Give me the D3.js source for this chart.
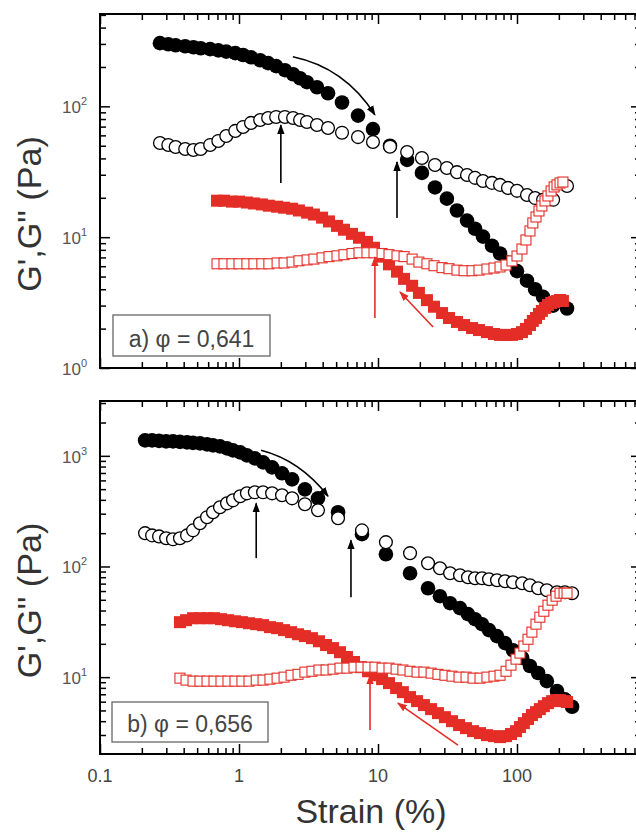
<!DOCTYPE html>
<html>
<head>
<meta charset="utf-8">
<script src="https://cdn.jsdelivr.net/npm/d3@7/dist/d3.min.js"></script>
<style>
body { margin: 0; background: #fff; }
svg { display: block; }
text { font-family: "Liberation Sans", Arial, sans-serif; }
</style>
</head>
<body>
<svg id="chart" width="636" height="833"></svg>
<script>
/* panel a) phi = 0,641 : black = first sweep, red = second sweep */
var strainA = [0.27, 0.31, 0.35, 0.41, 0.47, 0.53, 0.62, 0.71, 0.81, 0.94, 1.07, 1.22, 1.42, 1.62, 1.85, 2.14, 2.45, 2.75, 3.08, 3.64, 4.37, 5.51, 7.18, 9.2, 12.2, 16.2, 20.7, 25.7, 31.3, 37, 43.7, 49.9, 56.9, 66.1, 75.5, 86.1, 100, 118, 135, 154, 182, 229];
var gpA = [304, 298, 293, 288, 283, 278, 274, 268, 262, 255, 247, 237, 225, 214, 203, 189, 176, 164, 153, 140, 126, 107, 85, 67, 50, 39, 31, 24, 19.7, 16, 13.4, 11.6, 10.1, 8.6, 7.5, 6.4, 5.5, 4.65, 4.0, 3.5, 3.0, 2.85];
var gppA = [52.5, 50.7, 48.9, 47.2, 46.4, 47.2, 50.7, 54.4, 59.4, 64.9, 69.6, 74.7, 78.7, 81.5, 83, 83, 81.5, 78.7, 76, 72, 68.3, 62.9, 58.2, 53.4, 49.2, 44.8, 40.3, 35.6, 33.8, 31.4, 29.9, 28.4, 26.9, 26.0, 25.1, 23.8, 22.6, 21.0, 19.9, 19.3, 19.3, 24.6];

var strainRedA = [0.695, 0.78, 0.89, 1.0, 1.14, 1.28, 1.46, 1.64, 1.88, 2.11, 2.41, 2.70, 3.09, 3.46, 3.96, 4.44, 5.07, 5.69, 6.50, 7.30, 8.33, 9.36, 10.7, 12.0, 13.7, 15.4, 17.6, 19.7, 22.5, 25.3, 28.9, 32.4, 37.0, 41.6, 47.5, 53.3, 60.8, 68.3, 75.5, 83.4, 92.0, 100, 108.6, 116, 124, 130, 137, 144, 151, 159, 167, 176, 185, 194, 204, 214];
var gpRedA = [19.0, 19.0, 18.7, 18.7, 18.4, 18.1, 17.8, 17.4, 17.1, 16.8, 16.5, 16.0, 15.4, 14.9, 14.1, 13.2, 12.2, 11.4, 10.6, 9.9, 9.2, 8.3, 7.1, 6.2, 5.45, 4.8, 4.25, 3.75, 3.3, 2.94, 2.63, 2.41, 2.25, 2.13, 2.02, 1.95, 1.88, 1.82, 1.79, 1.79, 1.79, 1.82, 1.88, 1.99, 2.13, 2.29, 2.41, 2.59, 2.73, 2.88, 3.03, 3.14, 3.20, 3.25, 3.31, 3.25];
var gppRedA = [6.26, 6.26, 6.26, 6.26, 6.26, 6.26, 6.26, 6.26, 6.35, 6.35, 6.45, 6.6, 6.7, 6.8, 6.95, 7.1, 7.2, 7.35, 7.5, 7.6, 7.6, 7.6, 7.5, 7.35, 7.2, 7.1, 6.8, 6.45, 6.26, 6.05, 5.85, 5.74, 5.6, 5.54, 5.54, 5.6, 5.71, 5.81, 5.92, 6.13, 6.58, 7.18, 8.12, 9.52, 11.15, 12.84, 14.27, 15.86, 17.32, 18.92, 20.65, 22.55, 24.2, 25.1, 25.97, 26.4];

/* panel b) phi = 0,656 */
var strainB = [0.211, 0.237, 0.266, 0.299, 0.335, 0.376, 0.423, 0.467, 0.524, 0.589, 0.650, 0.730, 0.820, 0.905, 1.02, 1.14, 1.30, 1.49, 1.73, 2.04, 2.41, 2.98, 3.70, 5.16, 7.67, 11.4, 17.0, 22.9, 27.9, 33.0, 38.9, 44.4, 49.9, 56.0, 62.9, 71.8, 82.0, 93.6, 109, 124, 142, 164, 194, 221, 249];
var gpB = [1380, 1380, 1366, 1352, 1352, 1338, 1324, 1310, 1297, 1270, 1244, 1218, 1169, 1121, 1075, 1010, 949, 873, 787, 695, 613, 498, 413, 309, 196, 129, 86.9, 63.6, 53.9, 46.6, 42, 37.1, 33.4, 30.1, 26.6, 23.5, 20.3, 17.5, 14.9, 12.6, 10.9, 9.2, 7.5, 6.3, 5.4];
var gppB = [200, 191, 187, 180, 176, 180, 191, 212, 246, 279, 309, 343, 372, 396, 431, 458, 468, 468, 458, 440, 413, 365, 322, 273, 212, 166, 132, 107, 96.4, 86.9, 83.3, 80, 78.3, 78.3, 76.7, 75.1, 73.6, 72.1, 70.6, 67.7, 63.6, 61.0, 58.5, 58.5, 57.3];

var strainRedB = [0.376, 0.416, 0.467, 0.524, 0.589, 0.661, 0.742, 0.833, 0.936, 1.05, 1.18, 1.33, 1.49, 1.67, 1.88, 2.11, 2.37, 2.66, 2.98, 3.35, 3.76, 4.23, 4.75, 5.33, 5.98, 6.72, 7.55, 8.48, 9.51, 10.7, 12.0, 13.5, 15.1, 17.0, 19.1, 21.4, 24.1, 27.0, 30.3, 34.1, 38.3, 43.0, 48.3, 54.2, 60.8, 68.3, 75.5, 83.4, 90.5, 98.4, 105, 112, 120, 128, 137, 146, 156, 167, 179, 191, 204, 218, 229];
var gpRedB = [31.4, 32.7, 34.1, 34.1, 34.1, 34.1, 33.4, 32.7, 32.0, 31.4, 30.7, 30.1, 29.5, 28.3, 27.7, 26.6, 25.5, 24.4, 23.5, 22.5, 21.1, 19.5, 18.3, 16.8, 15.2, 13.7, 12.3, 11.3, 10.4, 9.6, 8.83, 7.96, 7.32, 6.60, 6.07, 5.59, 5.14, 4.73, 4.35, 4.00, 3.69, 3.46, 3.25, 3.12, 2.99, 2.93, 2.87, 2.93, 3.06, 3.25, 3.54, 3.84, 4.18, 4.54, 4.83, 5.14, 5.47, 5.82, 6.07, 6.20, 6.20, 6.07, 5.95];
var gppRedB = [9.79, 9.40, 9.20, 9.20, 9.20, 9.20, 9.20, 9.20, 9.20, 9.20, 9.20, 9.40, 9.40, 9.59, 9.79, 10.0, 10.4, 10.6, 11.1, 11.3, 11.6, 11.6, 11.8, 12.06, 12.06, 12.3, 12.3, 12.3, 12.3, 12.06, 12.06, 11.8, 11.6, 11.3, 11.1, 11.1, 10.87, 10.6, 10.4, 10.2, 10.0, 10.0, 9.79, 9.79, 10.0, 10.2, 10.4, 11.3, 12.83, 14.54, 16.5, 19.1, 22.0, 25.5, 30.1, 34.8, 39.4, 44.7, 49.6, 53.9, 57.4, 57.4, 57.4];

/* x tick labels and y decade exponents */
var xLabels = [0.1, 1, 10, 100];
var expsA = [0, 1, 2];
var expsB = [1, 2, 3];

/* annotation arrows, in data units [strain, modulus] */
var arrowsA = [
  {c: "k", p: [[2.0, 26], [2.0, 72]]},
  {c: "k", p: [[13.7, 14.0], [13.7, 37.6]]},
  {c: "k", p: [[2.44, 239], [5.8, 197], [9.5, 86]]},
  {c: "r", p: [[9.5, 2.41], [9.5, 7.06]]},
  {c: "r", p: [[24.9, 2.06], [14.4, 3.81]]}
];
var arrowsB = [
  {c: "k", p: [[1.33, 119], [1.33, 372]]},
  {c: "k", p: [[6.39, 52.8], [6.39, 173]]},
  {c: "k", p: [[1.44, 1121], [2.75, 910], [4.37, 431]]},
  {c: "r", p: [[8.76, 3.32], [8.76, 10.4]]},
  {c: "r", p: [[37.6, 2.43], [13.9, 5.82]]}
];

var red = "#e42d26";
var svg = d3.select("#chart");

var x = d3.scaleLog().domain([0.1, 780]).range([100, 641]);

var defs = svg.append("defs");
[["headk", "#000"], ["headr", red]].forEach(function(m) {
  defs.append("marker")
    .attr("id", m[0])
    .attr("viewBox", "0 0 10 10")
    .attr("refX", 9).attr("refY", 5)
    .attr("markerWidth", 10).attr("markerHeight", 10)
    .attr("markerUnits", "userSpaceOnUse")
    .attr("orient", "auto")
    .append("path").attr("d", "M0,1.3L10,5L0,8.7Z").attr("fill", m[1]);
});

var panels = [
  {top: 14, bottom: 368, domain: [1, 508], exps: expsA,
   k: [strainA, gpA, gppA], r: [strainRedA, gpRedA, gppRedA], arrows: arrowsA,
   note: "a) \u03c6 = 0,641", box: [113, 315, 157, 41], noteY: 347},
  {top: 401, bottom: 754, domain: [2.02, 3130], exps: expsB,
   k: [strainB, gpB, gppB], r: [strainRedB, gpRedB, gppRedB], arrows: arrowsB,
   note: "b) \u03c6 = 0,656", box: [112, 702, 156, 40], noteY: 732}
];

panels.forEach(function(p, pi) {
  var y = d3.scaleLog().domain(p.domain).range([p.bottom, p.top]);
  var g = svg.append("g");

  // ticks, all pointing inward
  var xMajor = [0.1, 1, 10, 100];
  var xMinor = x.ticks().filter(function(t) { return xMajor.indexOf(t) < 0; });
  var yMajor = p.exps.map(function(e) { return Math.pow(10, e); });
  var yMinor = y.ticks().filter(function(t) {
    return Math.abs(Math.log10(t) - Math.round(Math.log10(t))) > 1e-6;
  });

  function axisSet(axis, vals, len, tr) {
    var a = g.append("g").attr("transform", tr)
      .call(axis(vals === "x" ? x : y).tickValues(len[0]).tickSize(-len[1]).tickFormat(""));
    a.select(".domain").remove();
    a.selectAll("line").attr("stroke", "#000").attr("stroke-width", 1.5);
  }
  [[xMajor, 10], [xMinor, 6]].forEach(function(s) {
    axisSet(d3.axisBottom, "x", s, "translate(0," + p.bottom + ")");
    axisSet(d3.axisTop, "x", s, "translate(0," + p.top + ")");
  });
  [[yMajor, 10], [yMinor, 6]].forEach(function(s) {
    axisSet(d3.axisLeft, "y", s, "translate(100,0)");
    axisSet(d3.axisRight, "y", s, "translate(641,0)");
  });

  g.append("rect")
    .attr("x", 100).attr("y", p.top)
    .attr("width", 541).attr("height", p.bottom - p.top)
    .attr("fill", "none").attr("stroke", "#000").attr("stroke-width", 2);

  // y tick labels 10^n
  var yl = g.selectAll(".ylab").data(p.exps).enter().append("text")
    .attr("class", "ylab")
    .attr("x", 87).attr("y", function(e) { return y(Math.pow(10, e)) + 7; })
    .attr("text-anchor", "end").attr("fill", "#555").attr("font-size", 17);
  yl.append("tspan").text("10");
  yl.append("tspan").attr("dy", -8).attr("font-size", 11).text(function(e) { return e; });

  // y axis title
  g.append("text")
    .attr("transform", "translate(41," + ((p.top + p.bottom) / 2 + 23) + ") rotate(-90)")
    .attr("text-anchor", "middle").attr("fill", "#333").attr("font-size", 34)
    .text("G',G'' (Pa)");

  // note box
  g.append("rect")
    .attr("x", p.box[0]).attr("y", p.box[1]).attr("width", p.box[2]).attr("height", p.box[3])
    .attr("fill", "#fff").attr("stroke", "#666").attr("stroke-width", 1.3);
  g.append("text")
    .attr("x", p.box[0] + p.box[2] / 2).attr("y", p.noteY)
    .attr("text-anchor", "middle").attr("fill", "#444").attr("font-size", 23)
    .text(p.note);

  // black: filled G', open G''
  g.append("g").selectAll("circle").data(d3.zip(p.k[0], p.k[1])).enter().append("circle")
    .attr("cx", function(d) { return x(d[0]); })
    .attr("cy", function(d) { return y(d[1]); })
    .attr("r", 7.3).attr("fill", "#000");
  g.append("g").selectAll("circle").data(d3.zip(p.k[0], p.k[2])).enter().append("circle")
    .attr("cx", function(d) { return x(d[0]); })
    .attr("cy", function(d) { return y(d[1]); })
    .attr("r", 6.4).attr("fill", "#fff").attr("stroke", "#000").attr("stroke-width", 1.3);

  // red: filled G', open G''
  var sq = 12;
  g.append("g").selectAll("rect").data(d3.zip(p.r[0], p.r[1])).enter().append("rect")
    .attr("x", function(d) { return x(d[0]) - sq / 2; })
    .attr("y", function(d) { return y(d[1]) - sq / 2; })
    .attr("width", sq).attr("height", sq).attr("fill", red);
  g.append("g").selectAll("rect").data(d3.zip(p.r[0], p.r[2])).enter().append("rect")
    .attr("x", function(d) { return x(d[0]) - 5; })
    .attr("y", function(d) { return y(d[1]) - 5; })
    .attr("width", 10).attr("height", 10)
    .attr("fill", "#fff").attr("stroke", red).attr("stroke-width", 1.1);

  // arrows
  p.arrows.forEach(function(a) {
    var pts = a.p.map(function(q) { return [x(q[0]), y(q[1])]; });
    var d = pts.length === 3
      ? "M" + pts[0] + "Q" + pts[1] + " " + pts[2]
      : "M" + pts[0] + "L" + pts[1];
    g.append("path").attr("d", d)
      .attr("fill", "none")
      .attr("stroke", a.c === "r" ? red : "#000")
      .attr("stroke-width", 1.6)
      .attr("marker-end", "url(#head" + a.c + ")");
  });

  // x tick labels on the lower panel only
  if (pi === 1) {
    svg.selectAll(".xlab").data(xLabels).enter().append("text")
      .attr("class", "xlab")
      .attr("x", function(d) { return x(d); }).attr("y", 782)
      .attr("text-anchor", "middle").attr("fill", "#444").attr("font-size", 18)
      .text(function(d) { return d; });
  }
});

svg.append("text")
  .attr("x", 371).attr("y", 823)
  .attr("text-anchor", "middle").attr("fill", "#333").attr("font-size", 34)
  .text("Strain (%)");
</script>
</body>
</html>
